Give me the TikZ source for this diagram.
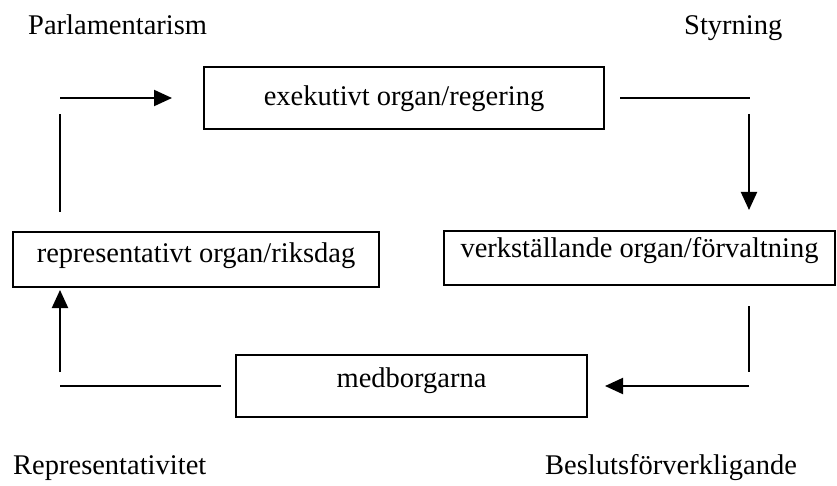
\documentclass[tikz,border=0pt]{standalone}
\usepackage{fontspec}
\setmainfont{Liberation Serif}
\usetikzlibrary{arrows.meta,positioning}

\tikzset{
  organ/.style={draw, line width=1.8pt, inner sep=0pt, text height=19.5pt},
  flow/.style={line width=2pt},
  flowarr/.style={flow, -{Triangle[length=18pt,width=16pt]}},
  rubrik/.style={inner sep=0pt, anchor=base west}
}

\begin{document}
\begin{tikzpicture}[x=1pt,y=-1pt,font=\fontsize{28.5}{34}\selectfont]
  \useasboundingbox (0,0) rectangle (837,486);
  % organen
  \node[organ, minimum width=400pt, minimum height=62pt, text depth=3.5pt] (regering) at (404,98) {exekutivt organ/regering};
  \node[organ, minimum width=366pt, minimum height=55pt, text depth=14.5pt] (riksdag) at (196,259.5) {representativt organ/riksdag};
  \node[organ, minimum width=391pt, minimum height=54pt, text depth=21.5pt] (forvaltning) at (639.5,258) {verkställande organ/förvaltning};
  \node[organ, minimum width=351pt, minimum height=62pt, text depth=17.5pt] (medborgarna) at (411.5,386) {medborgarna};
  % rubriker
  \node[rubrik] (parl) at (28,35) {Parlamentarism};
  \node[rubrik] (styr) at (684,35) {Styrning};
  \node[rubrik] (repr) at (13,474) {Representativitet};
  \node[rubrik] (beslut) at (545,474) {Beslutsförverkligande};
  % hörn och ändar
  \coordinate (v1) at (60,212);  \coordinate (v2) at (60,114);
  \coordinate (v3) at (60,98);   \coordinate (v4) at (172,98);
  \coordinate (h1) at (620,98);  \coordinate (h2) at (750,98);
  \coordinate (h3) at (749,114); \coordinate (h4) at (749,210);
  \coordinate (f1) at (749,306); \coordinate (f2) at (749,372);
  \coordinate (f3) at (749,386); \coordinate (f4) at (605,386);
  \coordinate (m1) at (221,386); \coordinate (m2) at (60,386);
  \coordinate (m3) at (60,372);  \coordinate (m4) at (60,290);
  % kretsloppet
  \draw[flow] (v1) -- (v2);
  \draw[flowarr] (v3) -- (v4);
  \draw[flow] (h1) -- (h2);
  \draw[flowarr] (h3) -- (h4);
  \draw[flow] (f1) -- (f2);
  \draw[flowarr] (f3) -- (f4);
  \draw[flow] (m1) -- (m2);
  \draw[flowarr] (m3) -- (m4);
\end{tikzpicture}
\end{document}
